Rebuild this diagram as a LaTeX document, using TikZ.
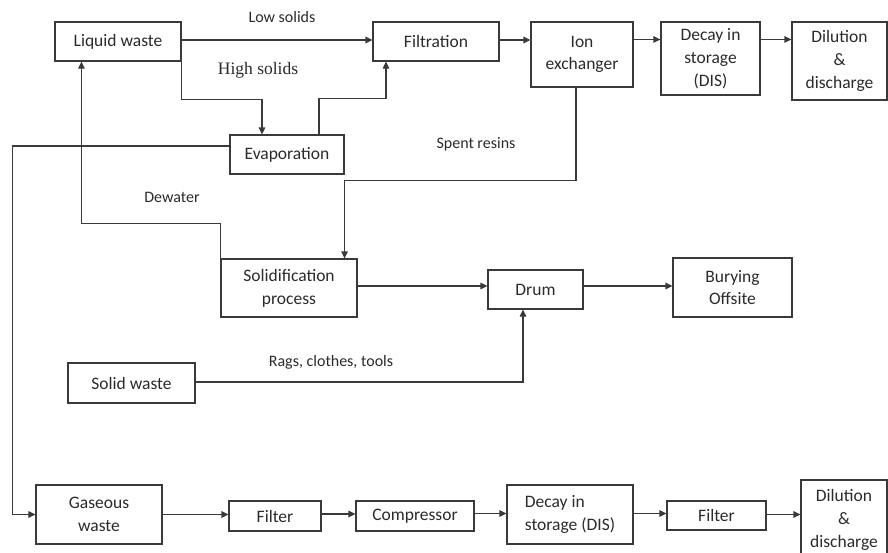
\documentclass[tikz,border=0pt]{standalone}
\usepackage{fontspec}
\setmainfont{Carlito}
\newfontfamily\serifx{Liberation Serif}
\usetikzlibrary{arrows.meta,calc}
\definecolor{ln}{HTML}{3A3A3A}
\definecolor{tx}{HTML}{2B2B2B}
\begin{document}
\begin{tikzpicture}[x=1pt,y=-1pt,
  box/.style={draw=ln, line width=1.1pt, text=tx, align=center, inner sep=0pt,
    font=\fontsize{17.5}{22.75}\selectfont},
  lbl/.style={text=tx, inner sep=0pt, font=\fontsize{16}{20}\selectfont},
  arr/.style={draw=ln, line width=1.1pt, -{Triangle[length=7pt,width=6.5pt]}},
  conn/.style={draw=ln, line width=1.1pt}]
\clip (0,0) rectangle (888,552);
\fill[white] (0,0) rectangle (888,552);
% top row
\node[box, minimum width=126pt, minimum height=39pt] (lw) at (118,41.5) {Liquid waste};
\node[box, minimum width=126pt, minimum height=39pt] (filt) at (436,41.5) {Filtration};
\node[box, minimum width=102pt, minimum height=65pt] (ion) at (582,54.5) {Ion\\exchanger};
\node[box, minimum width=99pt, minimum height=73pt] (dec) at (710.5,58.5) {Decay in\\storage\\(DIS)};
\node[box, minimum width=95pt, minimum height=78pt] (dil) at (839.5,61) {Dilution\\\&\\discharge};
\node[box, minimum width=114pt, minimum height=39pt] (evap) at (287,154.5) {Evaporation};
% middle
\node[box, minimum width=136pt, minimum height=58pt] (sol) at (289,288) {Solidification\\process};
\node[box, minimum width=95pt, minimum height=39pt] (drum) at (535.5,289.5) {Drum};
\node[box, minimum width=119pt, minimum height=59pt] (bury) at (732.5,287.5) {Burying\\Offsite};
\node[box, minimum width=127pt, minimum height=40pt] (sw) at (131.5,383) {Solid waste};
% bottom row
\node[box, minimum width=126pt, minimum height=59pt] (gas) at (99,514.5) {Gaseous\\waste};
\node[box, minimum width=92pt, minimum height=30pt] (f1) at (275,516) {Filter};
\node[box, minimum width=118pt, minimum height=30pt] (comp) at (415,516) {Compressor};
\node[box, minimum width=126pt, minimum height=59pt, align=left] (dec2) at (570,514.5) {Decay in\\storage (DIS)};
\node[box, minimum width=99pt, minimum height=29pt] (f2) at (716.5,515.5) {Filter};
\node[box, minimum width=86pt, minimum height=80pt] (dil2) at (844,520) {Dilution\\\&\\discharge};
% labels
\node[lbl] (llow) at (282,17) {Low solids};
\node[text=tx, inner sep=0pt, font=\serifx\fontsize{17.5}{20}\selectfont] (lhigh) at (258,70) {High solids};
\node[lbl] (lspent) at (476,144) {Spent resins};
\node[lbl] (ldew) at (172,197) {Dewater};
\node[lbl] (lrags) at (331,362) {Rags, clothes, tools};
% connector start points
\coordinate (s1) at ($(lw.east)+(0,-1.5)$);
\coordinate (s2) at ($(filt.east)+(0,-1.5)$);
\coordinate (s3) at ($(ion.north east)+(0,18)$);
\coordinate (s4) at ($(dec.north east)+(0,18)$);
\coordinate (s5) at ($(sol.east)+(0,-2)$);
\coordinate (s6) at ($(drum.east)+(0,-3.5)$);
\coordinate (s7) at ($(f1.east)+(0,-2)$);
\coordinate (s8) at ($(comp.east)+(0,-2.5)$);
\coordinate (s9) at ($(dec2.east)+(0,-1)$);
\coordinate (s10) at ($(f2.east)+(0,-1)$);
% connectors top
\draw[arr] (s1) -- (s1 -| filt.west);
\draw[arr] (s2) -- (s2 -| ion.west);
\draw[arr] (s3) -- (s3 -| dec.west);
\draw[arr] (s4) -- (s4 -| dil.west);
\draw[arr] (lw.south east) -- ++(0,38) -| ($(evap.north)+(-25,0)$);
\draw[arr] ($(evap.north)+(32,0)$) -- ++(0,-36) -| ($(filt.south)+(-50,0)$);
\draw[arr] ($(evap.west)+(0,-8.5)$) -| ($(gas.west)+(-23,0)$) -- (gas.west);
\draw[arr] (sol.north west) -- ++(0,-35) -| ($(lw.south west)+(27,0)$);
\draw[arr] ($(ion.south)+(-6,0)$) -- ++(0,93) -| ($(sol.north east)+(-13,0)$);
% middle
\draw[arr] (s5) -- (s5 -| drum.west);
\draw[arr] (s6) -- (s6 -| bury.west);
\draw[arr] ($(sw.east)+(0,-1)$) -| ($(drum.south)+(-12.5,0)$);
% bottom
\draw[arr] (gas.east) -- (gas.east -| f1.west);
\draw[arr] (s7) -- (s7 -| comp.west);
\draw[arr] (s8) -- (s8 -| dec2.west);
\draw[arr] (s9) -- (s9 -| f2.west);
\draw[arr] (s10) -- (s10 -| dil2.west);
\end{tikzpicture}
\end{document}
